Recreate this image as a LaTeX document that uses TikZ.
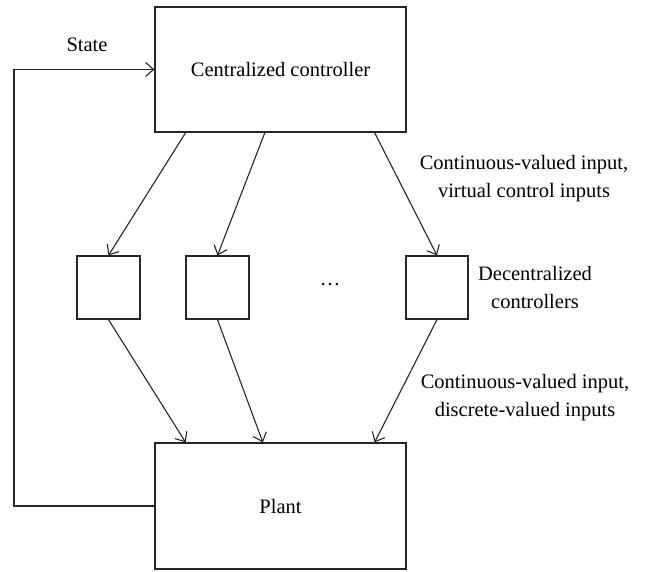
\documentclass[tikz,border=0pt]{standalone}
\usepackage{fontspec}
\setmainfont{Liberation Serif}
\usetikzlibrary{arrows.meta,calc}
\begin{document}
\begin{tikzpicture}[x=1pt,y=-1pt,
  box/.style={draw=black!85,line width=1.2pt,minimum width=#1,inner sep=0pt},
  lbl/.style={font=\fontsize{20.5}{28}\selectfont,align=center,inner sep=0pt},
  arr/.style={draw=black!85,line width=1.1pt,-{Straight Barb[length=8pt,width=14pt,line width=1.1pt]}},
  ln/.style={draw=black!85,line width=1.1pt}]
\useasboundingbox (0,0) rectangle (654,571);
\node[box=251pt,minimum height=125pt,lbl] (ctrl) at (280.5,69.5) {Centralized controller};
\node[box=251pt,minimum height=126pt,lbl] (plant) at (280.5,506) {Plant};
\node[box=63pt,minimum height=63pt] (b1) at (108.5,287.5) {};
\node[box=63pt,minimum height=63pt] (b2) at (217.5,287.5) {};
\node[box=62pt,minimum height=63pt] (b3) at (437,287.5) {};
\node[lbl,anchor=base] (dots) at (330,285) {\dots};
\node[lbl] (state) at (87,45) {State};
\node[lbl] (l1) at (524,179) {Continuous-valued input,\\ virtual control inputs};
\node[lbl] (l2) at (535,287) {Decentralized\\ controllers};
\node[lbl] (l3) at (525,398) {Continuous-valued input,\\ discrete-valued inputs};
\coordinate (fb) at (14,0);
\draw[arr] ($(ctrl.south west)!0.124!(ctrl.south east)$) -- (b1.north);
\draw[arr] ($(ctrl.south west)!0.438!(ctrl.south east)$) -- (b2.north);
\draw[arr] ($(ctrl.south west)!0.873!(ctrl.south east)$) -- (b3.north);
\draw[arr] (b1.south) -- ($(plant.north west)!0.124!(plant.north east)$);
\draw[arr] (b2.south) -- ($(plant.north west)!0.43!(plant.north east)$);
\draw[arr] (b3.south) -- ($(plant.north west)!0.873!(plant.north east)$);
\draw[arr] (plant.west) -- (plant.west -| fb) |- (ctrl.west);
\end{tikzpicture}
\end{document}
